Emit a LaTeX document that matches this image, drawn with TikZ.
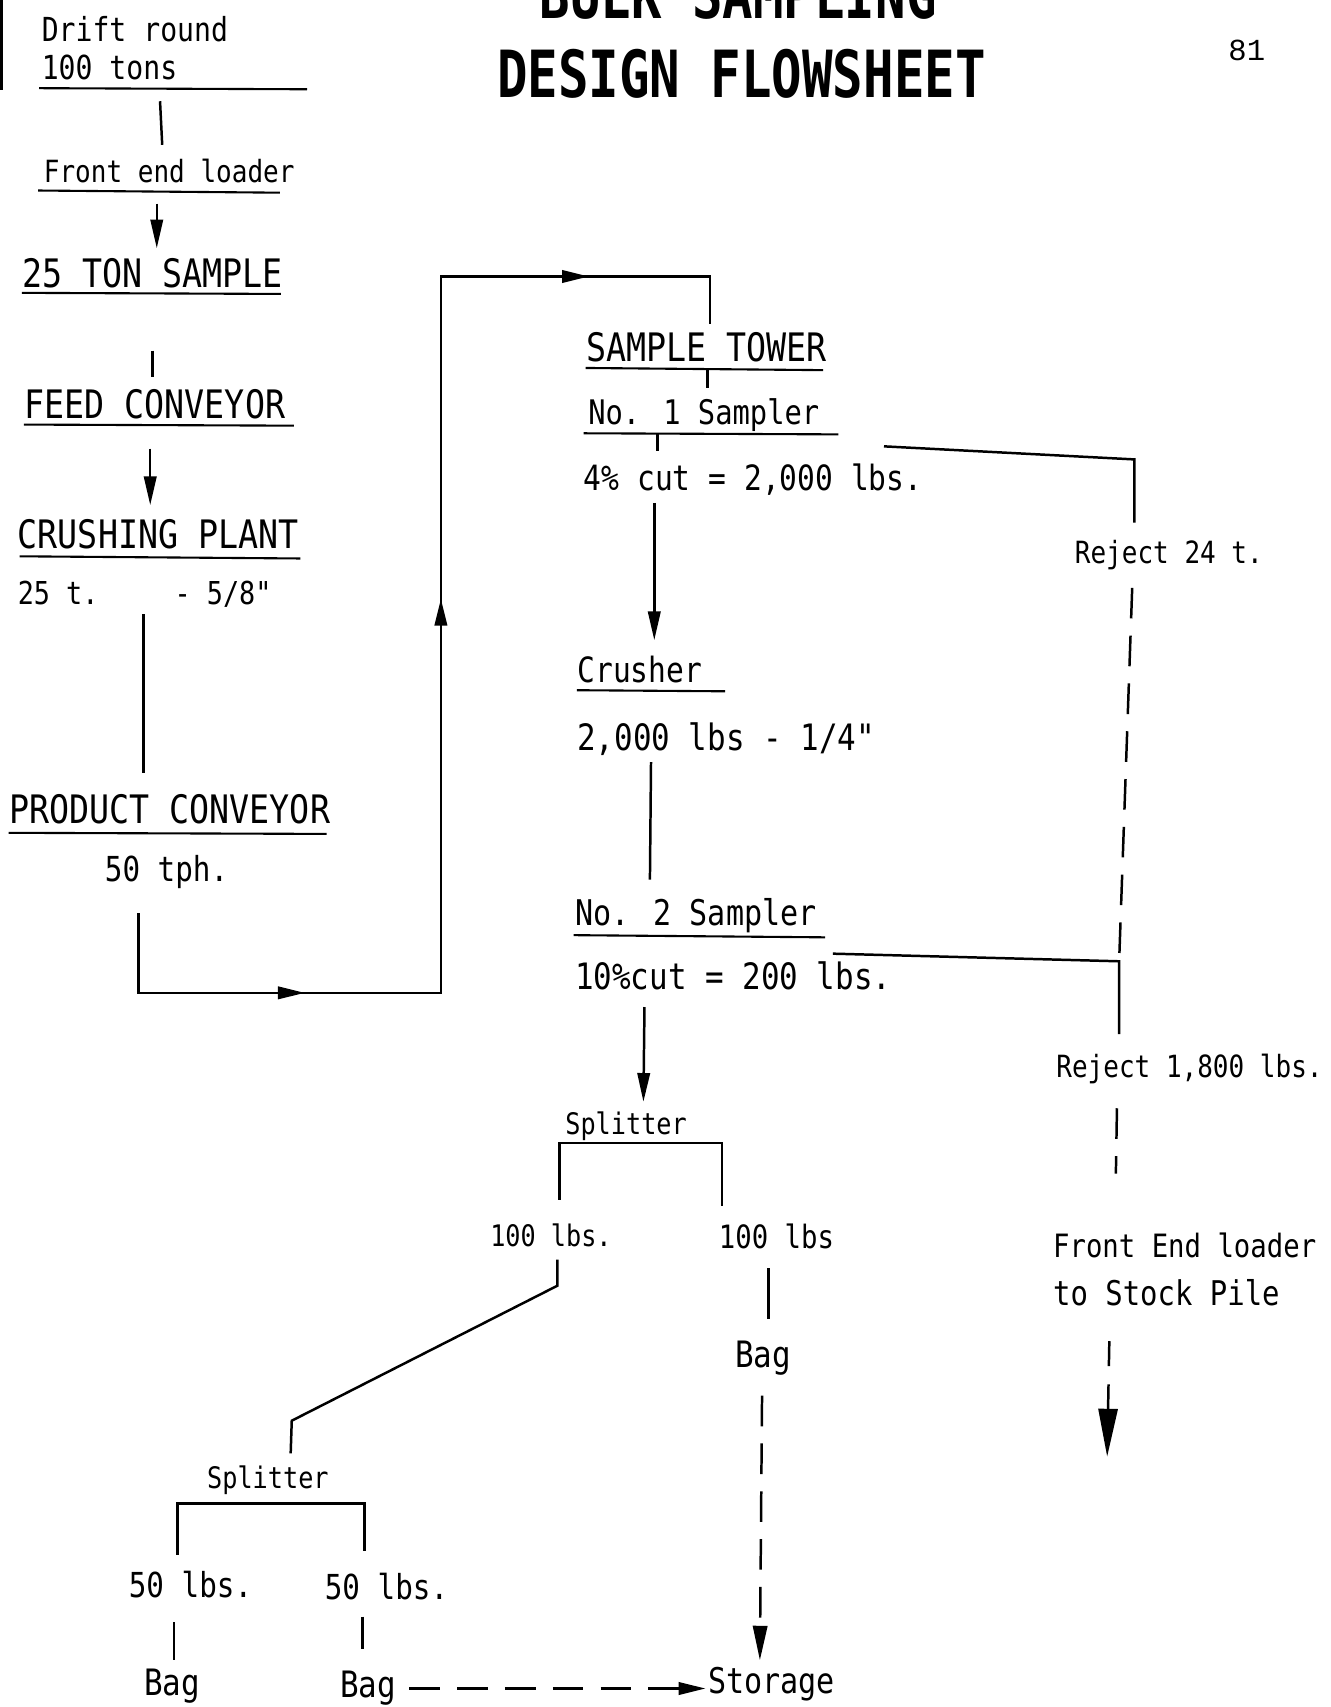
\documentclass[tikz,border=0pt]{standalone}
\usepackage{fontspec}
\newfontfamily\leroy[FakeStretch=0.85]{DejaVu Sans Mono}
\newfontfamily\leroytitle[FakeStretch=0.78]{DejaVu Sans Mono}
\newfontfamily\typewriter{Liberation Mono}
\usetikzlibrary{arrows.meta,decorations.markings}

\tikzset{
  flowline/.style={line width=1.3pt},
  flowarrow/.style={flowline,-{Triangle[length=15pt,width=6.5pt]}},
  dashline/.style={flowline,dash pattern=on 16pt off 9pt},
  midarrow/.style={flowline,decoration={markings,
      mark=at position 0.55 with {\arrow{Triangle[length=14pt,width=6.5pt]}}},
    postaction={decorate}},
  uline/.style={line width=1.1pt},
  lbl/.style={anchor=base west,inner sep=0pt,font=\leroy\fontsize{#1}{20pt}\selectfont},
  lbl/.default=17.3pt,
  caplbl/.style={lbl=20.5pt},
  heading/.style={anchor=base,inner sep=0pt,font=\leroytitle\bfseries\fontsize{34pt}{40pt}\selectfont},
}

\begin{document}
\begin{tikzpicture}[x=0.02cm,y=-0.02cm]
  \useasboundingbox (0,0) rectangle (1222,1568);
  \fill[white] (0,0) rectangle (1222,1568);
  \clip (0,0) rectangle (1222,1568);

  % title block
  \node[heading] (bulk) at (678,17) {BULK SAMPLING};
  \node[heading] (title) at (681,90) {DESIGN FLOWSHEET};
  \node[anchor=base west,inner sep=0pt,font=\typewriter\fontsize{16pt}{18pt}\selectfont] (pageno) at (1128,56) {81};
  \draw[line width=2pt] (1,0) -- (1,83);

  % mine side: drift round to product conveyor
  \node[lbl] (drift) at (38,38) {Drift round};
  \node[lbl] (tons) at (38,73) {100 tons};
  \node[lbl=16pt] (loader) at (40,168) {Front end loader};
  \node[caplbl] (sample) at (20,264) {25 TON SAMPLE};
  \node[caplbl] (feed) at (22,384) {FEED CONVEYOR};
  \node[caplbl] (crush) at (16,504) {CRUSHING PLANT};
  \node[lbl=16.5pt] (crusht) at (16,555) {25 t.};
  \node[lbl=16.5pt] (crushsz) at (160,555) {- 5/8"};
  \node[caplbl] (product) at (8,756) {PRODUCT CONVEYOR};
  \node[lbl=18pt] (tph) at (96,810) {50 tph.};

  \draw[uline] ([shift={(-2,8)}]tons.base west) -- ++(246,1);
  \draw[uline] ([shift={(-5,7)}]loader.base west) -- ++(222,2);
  \draw[uline] ([shift={(0,5)}]sample.base west) -- ++(238,1);
  \draw[uline] ([shift={(0,6)}]feed.base west) -- ++(248,1);
  \draw[uline] ([shift={(2,7)}]crush.base west) -- ++(258,2);
  \draw[uline] ([shift={(0,9)}]product.base west) -- ++(292,1);

  \draw[flowline] ([shift={(109,20)}]tons.base west) -- ([shift={(109,-35)}]loader.base west);
  \draw[flowarrow] ([shift={(104,19)}]loader.base west) -- ([shift={(124,-36)}]sample.base west);
  \draw[flowline] ([shift={(120,58)}]sample.base west) -- ([shift={(118,-38)}]feed.base west);
  \draw[flowarrow] ([shift={(116,28)}]feed.base west) -- ([shift={(122,-40)}]crush.base west);
  \draw[flowline] ([shift={(116,9)}]crusht.base west) -- ([shift={(124,-46)}]product.base west);

  % sample tower
  \node[caplbl] (tower) at (538,332) {SAMPLE TOWER};
  \node[lbl=17.7pt] (samp1) at (540,390) {No. 1 Sampler};
  \node[lbl=18.2pt] (cut1) at (536,451) {4\% cut = 2,000 lbs.};
  \node[lbl=16pt] (rej1) at (987,518) {Reject 24 t.};
  \node[lbl=18.2pt] (crusher) at (530,627) {Crusher};
  \node[lbl=19pt] (crushsz2) at (530,689) {2,000 lbs - 1/4"};
  \node[lbl=18.5pt] (samp2) at (528,850) {No. 2 Sampler};
  \node[lbl=19pt] (cut2) at (528,909) {10\%cut = 200 lbs.};
  \node[lbl=16pt] (rej2) at (970,990) {Reject 1,800 lbs.};
  \node[lbl=16.8pt] (fel) at (967,1155) {Front End loader};
  \node[lbl=17.8pt] (stock) at (967,1199) {to Stock Pile};

  % product conveyor up to the sample tower
  \coordinate (belt-a) at (127,912);
  \coordinate (belt-b) at (405,912);
  \coordinate (belt-c) at (405,254);
  \coordinate (belt-d) at (652,254);
  \draw[flowline] ([shift={(31,29)}]tph.base west) -- (belt-a) -- (belt-b) -- (belt-c)
    -- (belt-d) -- ([shift={(114,-34)}]tower.base west);
  \draw[midarrow] (belt-a) -- (belt-b);
  \draw[midarrow] (belt-b) -- (belt-c);
  \draw[midarrow] (belt-c) -- (belt-d);

  \draw[uline] ([shift={(0,6)}]tower.base west) -- ++(218,2);
  \draw[uline] ([shift={(-4,8)}]samp1.base west) -- ++(234,1);
  \draw[uline] ([shift={(0,7)}]crusher.base west) -- ++(136,1);
  \draw[uline] ([shift={(-1,9)}]samp2.base west) -- ++(231,2);

  \draw[flowline] ([shift={(112,7)}]tower.base west) -- ([shift={(110,-34)}]samp1.base west);
  \draw[flowline] ([shift={(64,9)}]samp1.base west) -- ([shift={(68,-37)}]cut1.base west);
  \draw[flowarrow] ([shift={(65,11)}]cut1.base west) -- ([shift={(71,-39)}]crusher.base west);
  \draw[flowline] ([shift={(68,11)}]crushsz2.base west) -- ([shift={(69,-42)}]samp2.base west);

  % rejects
  \draw[flowline] ([shift={(276,-41)}]cut1.base west) -- ([shift={(55,-96)}]rej1.base west)
    -- ([shift={(55,-38)}]rej1.base west);
  \draw[dashline] ([shift={(53,22)}]rej1.base west) -- ([shift={(58,-107)}]rej2.base west);
  \draw[flowline] ([shift={(237,-33)}]cut2.base west) -- ([shift={(58,-107)}]rej2.base west)
    -- ([shift={(58,-40)}]rej2.base west);
  \draw[dashline] ([shift={(56,28)}]rej2.base west) -- ([shift={(58,-77)}]fel.base west);
  \coordinate (pile) at (1017,1338);
  \draw[flowline,dash pattern=on 13pt off 9.6pt on 200pt,-{Triangle[length=25pt,width=10pt]}]
    ([shift={(52,33)}]stock.base west) -- (pile);

  % splitters
  \node[lbl=15.5pt] (split1) at (519,1042) {Splitter};
  \node[lbl=15.5pt] (h1a) at (450,1145) {100 lbs.};
  \node[lbl=16.8pt] (h1b) at (660,1147) {100 lbs};
  \node[lbl=19pt] (bag1) at (675,1256) {Bag};
  \node[lbl=15.5pt] (split2) at (190,1367) {Splitter};
  \node[lbl=18pt] (q1) at (118,1467) {50 lbs.};
  \node[lbl=18pt] (q2) at (298,1469) {50 lbs.};
  \node[lbl=19pt] (bag2) at (132,1557) {Bag};
  \node[lbl=19pt] (bag3) at (312,1559) {Bag};
  \node[lbl=18.5pt] (storage) at (650,1556) {Storage};

  \draw[flowarrow] ([shift={(64,16)}]cut2.base west) -- ([shift={(72,-30)}]split1.base west);
  \draw[flowline] ([shift={(64,-43)}]h1a.base west) |- ([shift={(-5,8)}]split1.base west)
    -| ([shift={(3,-39)}]h1b.base west);
  \draw[flowline] ([shift={(62,12)}]h1a.base west) -- ([shift={(62,36)}]h1a.base west)
    -- ([shift={(78,-62)}]split2.base west) -- ([shift={(77,-32)}]split2.base west);
  \draw[flowline] ([shift={(45,-39)}]q1.base west) |- ([shift={(-26,14)}]split2.base west)
    -| ([shift={(37,-44)}]q2.base west);
  \draw[flowline] ([shift={(42,23)}]q1.base west) -- ([shift={(28,-32)}]bag2.base west);
  \draw[flowline] ([shift={(35,16)}]q2.base west) -- ([shift={(21,-44)}]bag3.base west);
  \draw[flowline] ([shift={(46,18)}]h1b.base west) -- ([shift={(31,-44)}]bag1.base west);

  % to storage
  \draw[dashline,-{Triangle[length=14pt,width=6.5pt]}] ([shift={(64,-8)}]bag3.base west)
    -- ([shift={(-2,-5)}]storage.base west);
  \draw[dashline,-{Triangle[length=18pt,width=7.5pt]}] ([shift={(25,26)}]bag1.base west)
    -- ([shift={(48,-31)}]storage.base west);
\end{tikzpicture}
\end{document}
